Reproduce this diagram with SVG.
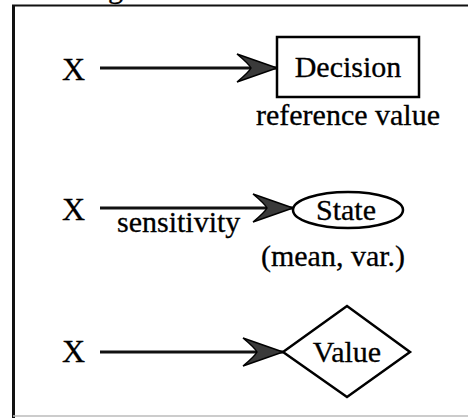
<svg xmlns="http://www.w3.org/2000/svg" width="468" height="418" viewBox="0 0 468 418">
<style>
text{font-family:"Liberation Serif","Times New Roman",serif;font-size:30px;fill:#000;stroke:#000;stroke-width:0.3}
.c{text-anchor:middle}
.x{font-size:32px}
.shape{fill:#fff;stroke:#000;stroke-width:2.5}
.edge{stroke:#111;stroke-width:3;fill:none}
</style>
<defs>
<marker id="ah" markerUnits="userSpaceOnUse" markerWidth="44" markerHeight="32" refX="42" refY="16" orient="auto" overflow="visible">
<path d="M42,16 L2,2 Q14,12 16,16 Q14,20 2,30 Z" fill="#3a3a3a" stroke="#000" stroke-width="1.5" stroke-linejoin="miter"/>
</marker>
</defs>
<rect width="468" height="418" fill="#fff"/>
<g id="frame">
<line x1="12" y1="5.5" x2="468" y2="5.5" stroke="#111" stroke-width="2.2"/>
<line x1="13.5" y1="5" x2="13.5" y2="418" stroke="#111" stroke-width="3"/>
<line x1="13" y1="416" x2="468" y2="416" stroke="#bbb" stroke-width="1.5"/>
<text x="108" y="-2">g</text>
</g>
<g id="connectors">
<line class="edge" x1="100" y1="68" x2="277" y2="68" marker-end="url(#ah)"/>
<line class="edge" x1="100" y1="208" x2="293" y2="208" marker-end="url(#ah)"/>
<text x="117" y="232">sensitivity</text>
<line class="edge" x1="100" y1="352" x2="283" y2="352" marker-end="url(#ah)"/>
</g>
<g id="x1"><text class="x" x="62" y="80">X</text></g>
<g id="x2"><text class="x" x="62" y="220">X</text></g>
<g id="x3"><text class="x" x="62" y="362">X</text></g>
<g id="decision">
<rect class="shape" x="277" y="37" width="142" height="60"/>
<text class="c" x="348" y="77">Decision</text>
<text class="c" x="348" y="125">reference value</text>
</g>
<g id="state">
<ellipse class="shape" cx="348" cy="210" rx="55" ry="18"/>
<text class="c" x="346" y="220">State</text>
<text class="c" x="333" y="266">(mean, var.)</text>
</g>
<g id="value">
<polygon class="shape" points="283,352 347,306 410,352 347,397"/>
<text class="c" x="347" y="362">Value</text>
</g>
</svg>
